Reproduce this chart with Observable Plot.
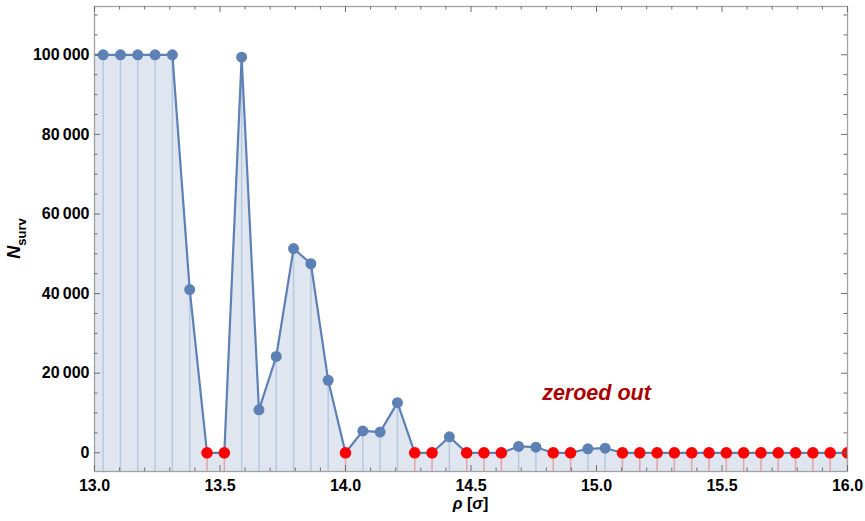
<!DOCTYPE html>
<html>
<head>
<meta charset="utf-8">
<script src="https://cdn.jsdelivr.net/npm/d3@7"></script>
<script src="https://cdn.jsdelivr.net/npm/@observablehq/plot@0.6"></script>
<style>
  html, body { margin: 0; padding: 0; background: #fff; }
  #chart svg { display: block; }
</style>
</head>
<body>
<div id="chart"></div>
<script>
// Radial positions ρ (in units of σ) and surviving counts at each position
const rho = [
  12.9655, 13.0345, 13.1034, 13.1724, 13.2414, 13.3103, 13.3793, 13.4483, 13.5172,
  13.5862, 13.6552, 13.7241, 13.7931, 13.8621, 13.9310, 14.0000, 14.0690,
  14.1379, 14.2069, 14.2759, 14.3448, 14.4138, 14.4828, 14.5517, 14.6207,
  14.6897, 14.7586, 14.8276, 14.8966, 14.9655, 15.0345, 15.1034, 15.1724,
  15.2414, 15.3103, 15.3793, 15.4483, 15.5172, 15.5862, 15.6552, 15.7241,
  15.7931, 15.8621, 15.9310, 16.0000
];
const nSurv = [
  100000, 100000, 100000, 100000, 100000, 100000, 41000, 0, 0,
  99400, 10800, 24200, 51300, 47500, 18200, 0, 5500,
  5200, 12600, 0, 0, 4000, 0, 0, 0,
  1600, 1400, 0, 0, 1000, 1150, 0, 0,
  0, 0, 0, 0, 0, 0, 0, 0,
  0, 0, 0, 0
];

// Axis ticks
const xTicks = [13.0, 13.5, 14.0, 14.5, 15.0, 15.5, 16.0];
const xMinorTicks = [13.1, 13.2, 13.3, 13.4, 13.6, 13.7, 13.8, 13.9, 14.1, 14.2, 14.3, 14.4,
  14.6, 14.7, 14.8, 14.9, 15.1, 15.2, 15.3, 15.4, 15.6, 15.7, 15.8, 15.9];
const yTicks = [0, 20000, 40000, 60000, 80000, 100000];
const yMinorTicks = [5000, 10000, 15000, 25000, 30000, 35000, 45000, 50000, 55000,
  65000, 70000, 75000, 85000, 90000, 95000, 105000, 110000];

const xDomain = [13, 16];
const yDomain = [-4700, 112135];

// Annotation
const noteText = "zeroed out";
const noteX = 15.0;
const noteY = 15000;

const W = 865, H = 521;
const M = { top: 6, right: 18, bottom: 50, left: 94 };
const innerW = W - M.left - M.right;
const innerH = H - M.top - M.bottom;

const blue = "#5e81b5";
const red = "#ff0000";
const frameGray = "#a3a3a3";
const tickGray = "#6e6e6e";

const data = rho.map((x, i) => ({ x, n: nSurv[i], zero: nSurv[i] === 0 }));
const live = data.filter(d => !d.zero);
const dead = data.filter(d => d.zero);
const floor = yDomain[0];

const locale = d3.formatLocale({ decimal: ".", thousands: "\u2009", grouping: [3], currency: ["", ""] });
const yFmt = locale.format(",");

const majorLen = 6, minorLen = 3.5;

const chart = Plot.plot({
  width: W,
  height: H,
  marginTop: M.top,
  marginRight: M.right,
  marginBottom: M.bottom,
  marginLeft: M.left,
  style: { fontFamily: "'Liberation Sans', Arial, sans-serif", fontSize: "16px", fontWeight: "bold", color: "#000", background: "#fff" },
  x: { domain: xDomain, label: null },
  y: { domain: yDomain, label: null },
  marks: [
    // filled region under the joined series
    Plot.areaY(data, { x: "x", y1: floor, y2: "n", fill: "#dfe6f0", curve: "linear", clip: true }),
    // drop lines from each point to the bottom of the frame
    Plot.ruleX(live, { x: "x", y1: floor, y2: "n", stroke: "#b7c8df", strokeWidth: 1.5, clip: true }),
    Plot.ruleX(dead, { x: "x", y1: floor, y2: "n", stroke: "#e4a2ab", strokeWidth: 1.5, clip: true }),
    // joined series
    Plot.line(data, { x: "x", y: "n", stroke: blue, strokeWidth: 2.2, curve: "linear", clip: true }),
    Plot.dot(live, { x: "x", y: "n", r: 5.5, fill: blue, clip: true }),
    Plot.dot(dead, { x: "x", y: "n", r: 5.8, fill: red, clip: true }),
    // frame and inward ticks
    Plot.frame({ stroke: frameGray, strokeWidth: 1.3 }),
    Plot.tickX(xTicks, { x: d => d, insetTop: innerH - majorLen, stroke: tickGray }),
    Plot.tickX(xTicks, { x: d => d, insetBottom: innerH - majorLen, stroke: tickGray }),
    Plot.tickX(xMinorTicks, { x: d => d, insetTop: innerH - minorLen, stroke: tickGray }),
    Plot.tickX(xMinorTicks, { x: d => d, insetBottom: innerH - minorLen, stroke: tickGray }),
    Plot.tickY(yTicks, { y: d => d, insetRight: innerW - majorLen, stroke: tickGray }),
    Plot.tickY(yTicks, { y: d => d, insetLeft: innerW - majorLen, stroke: tickGray }),
    Plot.tickY(yMinorTicks, { y: d => d, insetRight: innerW - minorLen, stroke: tickGray }),
    Plot.tickY(yMinorTicks, { y: d => d, insetLeft: innerW - minorLen, stroke: tickGray }),
    // tick labels
    Plot.axisX({ ticks: xTicks, tickSize: 0, tickPadding: 8, tickFormat: d3.format(".1f"), label: null, fontSize: 16, fontWeight: "bold", fill: "#000" }),
    Plot.axisY({ ticks: yTicks, tickSize: 0, tickPadding: 5, tickFormat: yFmt, label: null, fontSize: 16, fontWeight: "bold", fill: "#000" }),
    // annotation
    Plot.text([{ x: noteX, y: noteY, t: noteText }], {
      x: "x", y: "y", text: "t", fill: "#aa0000", fontSize: 21.5, fontWeight: "bold", fontStyle: "italic"
    })
  ]
});

// Axis titles with mixed styling (italic symbols, subscript)
const svg = d3.select(chart);
const xTitle = svg.append("text")
  .attr("x", M.left + innerW / 2)
  .attr("y", 509)
  .attr("text-anchor", "middle")
  .attr("font-size", 16)
  .attr("font-weight", "bold")
  .attr("fill", "#000");
xTitle.append("tspan").attr("font-style", "italic").text("ρ");
xTitle.append("tspan").text(" [");
xTitle.append("tspan").attr("font-style", "italic").text("σ");
xTitle.append("tspan").text("]");

const yTitle = svg.append("text")
  .attr("transform", `translate(20,${M.top + innerH / 2}) rotate(-90)`)
  .attr("text-anchor", "middle")
  .attr("font-weight", "bold")
  .attr("fill", "#000");
yTitle.append("tspan").attr("font-size", 18).attr("font-style", "italic").text("N");
yTitle.append("tspan").attr("font-size", 13).attr("dy", 6).text("surv");

document.getElementById("chart").appendChild(chart);
</script>
</body>
</html>
